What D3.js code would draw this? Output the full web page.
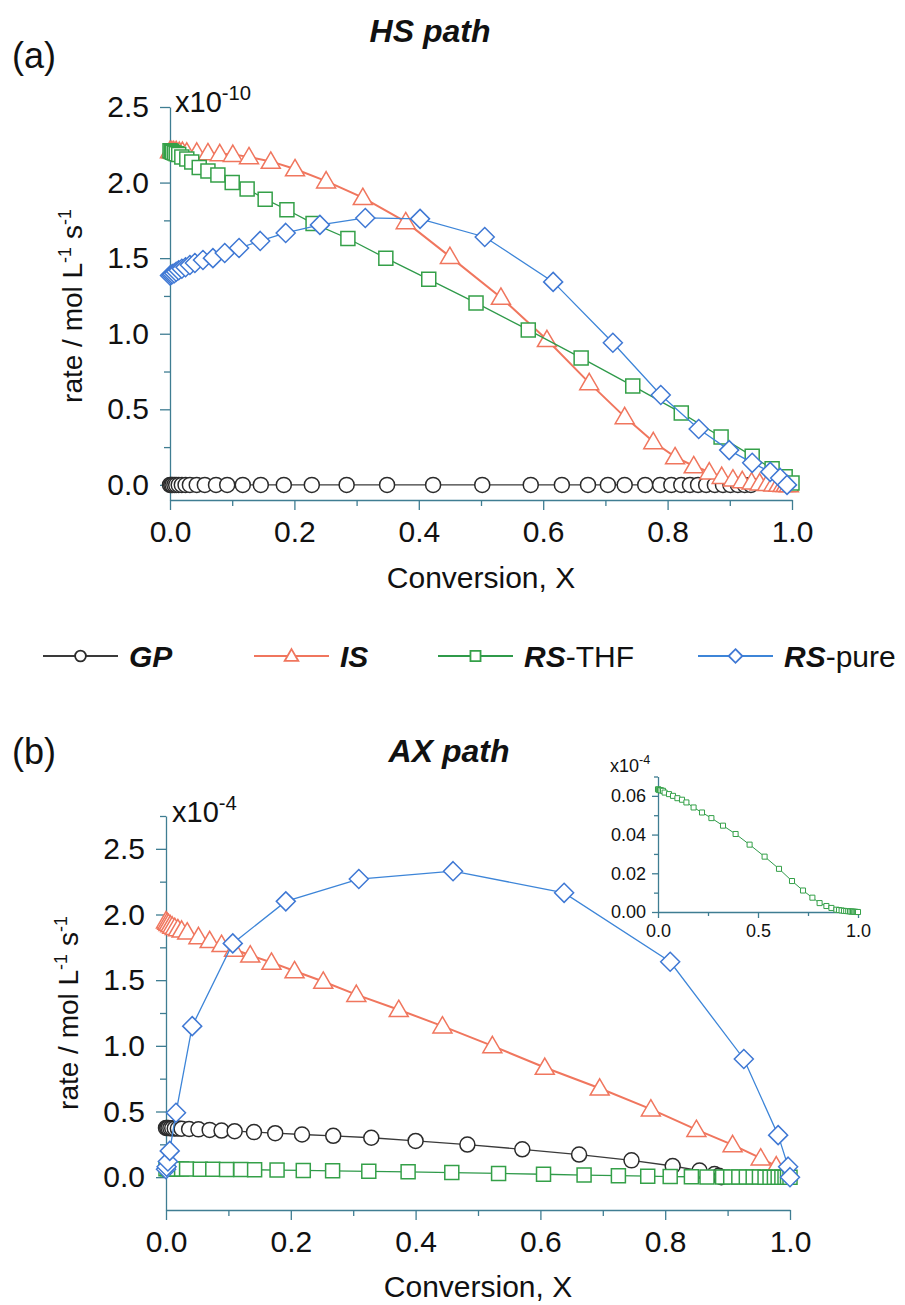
<!DOCTYPE html>
<html>
<head>
<meta charset="utf-8">
<title>rate vs conversion</title>
<script src="https://cdn.jsdelivr.net/npm/d3@7/dist/d3.min.js"></script>
<style>
  body { margin: 0; background: #fff; }
  text { font-family: "Liberation Sans", Arial, Helvetica, sans-serif; fill: #111; }
</style>
</head>
<body>
<div id="chart"></div>
<script>
// ---- data: [conversion X, rate] (rate in units of the axis multiplier) ----

// (a) HS path, x10^-10
var hsGP = [[0,0],[0.002,0],[0.004,0],[0.007,0],[0.01,0],[0.014,0],[0.019,0],[0.025,0],[0.032,0],
  [0.043,0],[0.056,0],[0.074,0],[0.092,0],[0.117,0],[0.146,0],[0.183,0],[0.228,0],[0.284,0],
  [0.349,0],[0.423,0],[0.502,0],[0.580,0],[0.630,0],[0.672,0],[0.704,0],[0.731,0],[0.764,0],
  [0.788,0],[0.806,0],[0.822,0],[0.836,0],[0.849,0],[0.862,0],[0.876,0],[0.889,0],[0.901,0],
  [0.913,0],[0.924,0],[0.934,0]];
var hsIS = [[0,2.21],[0.003,2.21],[0.006,2.21],[0.01,2.21],[0.015,2.205],[0.02,2.205],[0.027,2.2],
  [0.043,2.2],[0.061,2.196],[0.080,2.19],[0.101,2.185],[0.127,2.17],[0.162,2.14],[0.201,2.09],
  [0.251,2.01],[0.310,1.90],[0.379,1.74],[0.450,1.51],[0.532,1.24],[0.606,0.96],[0.674,0.675],
  [0.731,0.45],[0.777,0.285],[0.812,0.185],[0.842,0.125],[0.867,0.085],[0.887,0.055],[0.905,0.038],
  [0.92,0.027],[0.935,0.018],[0.948,0.012],[0.96,0.008],[0.97,0.005],[0.978,0.003],[0.985,0.002],
  [0.99,0.001],[0.995,0]];
var hsTHF = [[0,2.21],[0.002,2.205],[0.004,2.2],[0.007,2.195],[0.01,2.19],[0.014,2.185],[0.019,2.17],
  [0.027,2.156],[0.035,2.136],[0.047,2.10],[0.061,2.077],[0.077,2.05],[0.100,2.0],[0.124,1.958],
  [0.153,1.89],[0.188,1.82],[0.230,1.73],[0.286,1.63],[0.347,1.50],[0.416,1.36],[0.492,1.204],
  [0.576,1.025],[0.661,0.84],[0.744,0.655],[0.822,0.476],[0.886,0.317],[0.936,0.19],[0.968,0.106],
  [0.989,0.053],[1.0,0.013]];
var hsPure = [[0,1.385],[0.002,1.39],[0.004,1.395],[0.007,1.40],[0.01,1.41],[0.014,1.42],[0.019,1.43],
  [0.025,1.44],[0.032,1.455],[0.040,1.468],[0.053,1.488],[0.069,1.50],[0.088,1.534],[0.111,1.567],
  [0.145,1.614],[0.186,1.667],[0.241,1.72],[0.314,1.766],[0.402,1.76],[0.506,1.64],[0.616,1.343],
  [0.712,0.94],[0.789,0.595],[0.850,0.37],[0.899,0.23],[0.936,0.146],[0.965,0.086],[0.981,0.046],
  [0.992,0.0]];

// (b) AX path, x10^-4
var axGP = [[0,0.375],[0.002,0.375],[0.004,0.374],[0.007,0.373],[0.01,0.372],[0.014,0.371],[0.019,0.37],
  [0.025,0.369],[0.037,0.367],[0.052,0.364],[0.07,0.36],[0.089,0.355],[0.11,0.35],[0.141,0.343],
  [0.175,0.335],[0.218,0.325],[0.268,0.315],[0.329,0.3],[0.40,0.276],[0.483,0.248],[0.571,0.212],
  [0.662,0.172],[0.746,0.128],[0.812,0.085],[0.855,0.05],[0.879,0.024],[0.886,0.01],[0.89,0.0]];
var axIS = [[0,1.95],[0.002,1.94],[0.004,1.93],[0.007,1.92],[0.01,1.91],[0.014,1.90],[0.019,1.89],
  [0.025,1.88],[0.034,1.865],[0.052,1.83],[0.07,1.80],[0.089,1.77],[0.109,1.735],[0.135,1.69],
  [0.169,1.635],[0.206,1.57],[0.252,1.49],[0.305,1.39],[0.373,1.275],[0.443,1.15],[0.523,1.0],
  [0.607,0.835],[0.695,0.677],[0.777,0.518],[0.85,0.362],[0.908,0.246],[0.953,0.145],[0.978,0.085],
  [0.996,0.03]];
var axTHF = [[0,0.0634],[0.003,0.0632],[0.006,0.063],[0.01,0.063],[0.017,0.0628],[0.025,0.0626],
  [0.033,0.0617],[0.055,0.0609],[0.075,0.060],[0.097,0.0588],[0.12,0.058],[0.142,0.0566],[0.178,0.054],
  [0.22,0.0514],[0.267,0.0485],[0.325,0.0446],[0.388,0.0403],[0.458,0.0348],[0.533,0.0286],
  [0.605,0.0223],[0.67,0.016],[0.725,0.0111],[0.772,0.0074],[0.808,0.0046],[0.842,0.0031],
  [0.867,0.0021],[0.892,0.0012],[0.905,0.001],[0.918,0.0008],[0.93,0.0006],[0.941,0.0005],
  [0.951,0.0004],[0.96,0.0003],[0.968,0.0002],[0.975,0.0002],[0.981,0.0001],[0.987,0.0001],
  [0.992,0],[0.996,0],[1.0,0]];
var axPure = [[0,0.06],[0.001,0.08],[0.003,0.12],[0.006,0.2],[0.016,0.49],[0.042,1.15],[0.107,1.78],
  [0.192,2.10],[0.309,2.27],[0.46,2.33],[0.638,2.165],[0.808,1.64],[0.926,0.90],[0.981,0.32],
  [0.997,0.08],[1.0,0.0]];

// ticks and labels
var xMajor = [0, 0.2, 0.4, 0.6, 0.8, 1.0];
var xMinor = [0.1, 0.3, 0.5, 0.7, 0.9];
var yMajor = [0, 0.5, 1.0, 1.5, 2.0, 2.5];
var yMinorA = [0.25, 0.75, 1.25, 1.75, 2.25];
var yMinorB = [0.25, 0.75, 1.25, 1.75, 2.25, 2.75];
var insetXMajor = [0, 0.5, 1.0];
var insetXMinor = [0.25, 0.75];
var insetYMajor = [0, 0.02, 0.04, 0.06];
var insetYMinor = [0.01, 0.03, 0.05, 0.07];
var legendNames = [["GP", ""], ["IS", ""], ["RS", "-THF"], ["RS", "-pure"]];

// ---- styles ----
var axisColor = "#3f7d92";
var styles = [
  { shape: "circle",   color: "#2b2b2b", line: "#3a3a3a", lw: 1.3 },
  { shape: "triangle", color: "#f0765e", line: "#f0765e", lw: 2 },
  { shape: "square",   color: "#34a048", line: "#2f9a4a", lw: 1.3 },
  { shape: "diamond",  color: "#3f78d4", line: "#3d85d8", lw: 1.3 }
];

var svg = d3.select("#chart").append("svg")
  .attr("width", 905)
  .attr("height", 1305);

function shapePath(shape, s) {
  if (shape === "circle") {
    return `M${-s},0A${s},${s} 0 1,0 ${s},0A${s},${s} 0 1,0 ${-s},0Z`;
  } else if (shape === "triangle") {
    return `M0,${-s}L${s},${s * 0.72}L${-s},${s * 0.72}Z`;
  } else if (shape === "square") {
    return `M${-s},${-s}h${2 * s}v${2 * s}h${-2 * s}Z`;
  }
  return `M0,${-s}L${s},0L0,${s}L${-s},0Z`;
}

// marker half-sizes per shape
function markerSize(shape, k) {
  var base = { circle: 7.5, triangle: 9.5, square: 7, diamond: 9.5 };
  return base[shape] * k;
}

function drawSeries(g, x, y, data, st, k, lw) {
  g.append("path")
    .datum(data)
    .attr("fill", "none")
    .attr("stroke", st.line)
    .attr("stroke-width", lw || st.lw)
    .attr("d", d3.line().x(d => x(d[0])).y(d => y(d[1])));
  g.selectAll(null)
    .data(data)
    .enter()
    .append("path")
    .attr("transform", d => `translate(${x(d[0])},${y(d[1])})`)
    .attr("d", shapePath(st.shape, markerSize(st.shape, k)))
    .attr("fill", "#fff")
    .attr("stroke", st.color)
    .attr("stroke-width", k < 0.5 ? 1 : 1.5);
}

function styleAxis(a, fontSize) {
  a.attr("font-size", fontSize).attr("font-family", null);
  a.selectAll("line, path").attr("stroke", axisColor).attr("stroke-width", 1.3);
  a.selectAll("text").attr("fill", "#111");
}

function drawAxes(g, x, y, o) {
  var xa = g.append("g").attr("transform", `translate(0,${y.range()[0]})`);
  xa.call(d3.axisBottom(x).tickValues(o.xMajor).tickSize(o.tick).tickSizeOuter(0)
    .tickPadding(o.pad).tickFormat(d3.format(o.xFmt)));
  xa.append("g").call(d3.axisBottom(x).tickValues(o.xMinor).tickSize(o.tickMinor).tickFormat(""))
    .select(".domain").remove();
  styleAxis(xa, o.font);

  var ya = g.append("g").attr("transform", `translate(${x.range()[0]},0)`);
  ya.call(d3.axisLeft(y).tickValues(o.yMajor).tickSize(o.tick).tickSizeOuter(0)
    .tickPadding(o.pad).tickFormat(d3.format(o.yFmt)));
  ya.append("g").call(d3.axisLeft(y).tickValues(o.yMinor).tickSize(o.tickMinor).tickFormat(""))
    .select(".domain").remove();
  styleAxis(ya, o.font);
}

function sciLabel(g, px, py, exp, size) {
  var t = g.append("text").attr("x", px).attr("y", py).attr("font-size", size);
  t.append("tspan").text("x10");
  t.append("tspan").attr("dy", -size * 0.42).attr("font-size", size * 0.7).text(exp);
}

function rateLabel(g, px, py) {
  var t = g.append("text")
    .attr("transform", `translate(${px},${py}) rotate(-90)`)
    .attr("text-anchor", "middle")
    .attr("font-size", 28);
  t.append("tspan").text("rate / mol L");
  t.append("tspan").attr("dy", -11).attr("font-size", 18).text("-1");
  t.append("tspan").attr("dy", 11).text(" s");
  t.append("tspan").attr("dy", -11).attr("font-size", 18).text("-1");
}

var mainAxisOpts = {
  tick: 10, tickMinor: 6, pad: 11, font: 30,
  xMajor: xMajor, xMinor: xMinor, xFmt: ".1f", yMajor: yMajor, yFmt: ".1f"
};

// ---- panel (a) ----
var ga = svg.append("g");
var xA = d3.scaleLinear().domain([0, 1]).range([170, 792]);
var yA = d3.scaleLinear().domain([-0.1, 2.5]).range([500, 107]);

drawAxes(ga, xA, yA, Object.assign({}, mainAxisOpts, { yMinor: yMinorA }));
[hsGP, hsIS, hsTHF, hsPure].forEach((s, i) => drawSeries(ga, xA, yA, s, styles[i], 1));

ga.append("text").attr("x", 12).attr("y", 68).attr("font-size", 36).text("(a)");
ga.append("text").attr("x", 430).attr("y", 42).attr("text-anchor", "middle")
  .attr("font-size", 32).attr("font-weight", "bold").attr("font-style", "italic").text("HS path");
sciLabel(ga, 175, 112, "-10", 29);
rateLabel(ga, 82, 306);
ga.append("text").attr("x", 481).attr("y", 588).attr("text-anchor", "middle")
  .attr("font-size", 30).text("Conversion, X");

// ---- legend ----
var legend = svg.append("g").attr("transform", "translate(0,656)");
var legendX = [43, 254, 438, 698];
legendNames.forEach(function(n, i) {
  var st = styles[i];
  var item = legend.append("g").attr("transform", `translate(${legendX[i]},0)`);
  item.append("line").attr("x1", 0).attr("x2", 75).attr("y1", 0).attr("y2", 0)
    .attr("stroke", st.line).attr("stroke-width", 2);
  item.append("path").attr("transform", "translate(37.5,0)")
    .attr("d", shapePath(st.shape, markerSize(st.shape, 0.72)))
    .attr("fill", "#fff").attr("stroke", st.color).attr("stroke-width", 1.8);
  var t = item.append("text").attr("x", 86).attr("y", 11).attr("font-size", 30);
  t.append("tspan").attr("font-weight", "bold").attr("font-style", "italic").text(n[0]);
  if (n[1]) t.append("tspan").text(n[1]);
});

// ---- panel (b) ----
var gb = svg.append("g");
var xB = d3.scaleLinear().domain([0, 1]).range([166, 790]);
var yB = d3.scaleLinear().domain([-0.25, 2.75]).range([1210, 816]);

drawAxes(gb, xB, yB, Object.assign({}, mainAxisOpts, { yMinor: yMinorB }));
[axGP, axIS, axTHF, axPure].forEach((s, i) => drawSeries(gb, xB, yB, s, styles[i], 1));

gb.append("text").attr("x", 12).attr("y", 764).attr("font-size", 36).text("(b)");
gb.append("text").attr("x", 449).attr("y", 762).attr("text-anchor", "middle")
  .attr("font-size", 32).attr("font-weight", "bold").attr("font-style", "italic").text("AX path");
sciLabel(gb, 172, 822, "-4", 29);
rateLabel(gb, 78, 1013);
gb.append("text").attr("x", 478).attr("y", 1297).attr("text-anchor", "middle")
  .attr("font-size", 30).text("Conversion, X");

// ---- inset: RS-THF, AX path ----
var gi = svg.append("g");
var xI = d3.scaleLinear().domain([0, 1]).range([658, 858]);
var yI = d3.scaleLinear().domain([0, 0.07]).range([912, 776.5]);
drawAxes(gi, xI, yI, {
  tick: 6, tickMinor: 4, pad: 6, font: 18,
  xMajor: insetXMajor, xMinor: insetXMinor, xFmt: ".1f",
  yMajor: insetYMajor, yMinor: insetYMinor, yFmt: ".2f"
});
drawSeries(gi, xI, yI, axTHF, styles[2], 0.36, 1);
sciLabel(gi, 610, 772, "-4", 18);
</script>
</body>
</html>
